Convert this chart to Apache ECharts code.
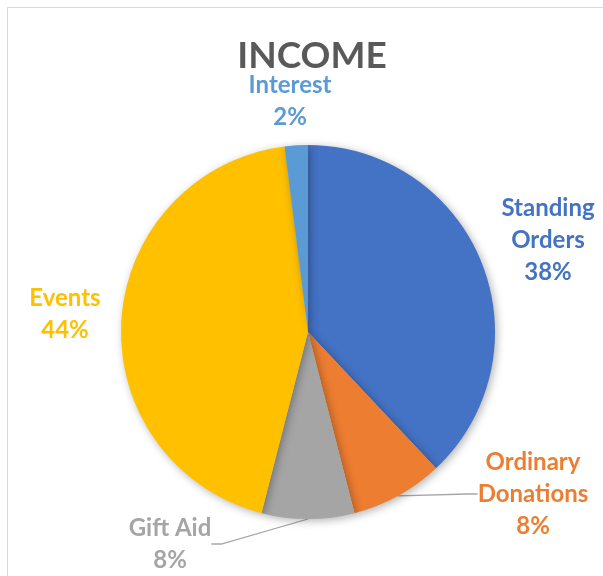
<!DOCTYPE html>
<html>
<head>
<meta charset="utf-8">
<script src="https://cdn.jsdelivr.net/npm/echarts@6/dist/echarts.min.js"></script>
<style>
  html, body { margin: 0; padding: 0; background: #fff; overflow: hidden; }
  #chart { position: absolute; left: 0; top: 0; width: 603px; height: 576px; }
  .frame {
    position: absolute; left: 7px; top: 7px; width: 700px; height: 700px;
    border: 1px solid #d9d9d9; pointer-events: none;
  }
</style>
</head>
<body>
<div id="chart"></div>
<div class="frame"></div>
<script>
// categories and values, clockwise from 12 o'clock
var categories = ['Standing Orders', 'Ordinary Donations', 'Gift Aid', 'Events', 'Interest'];
var values = [38, 8, 8, 44, 2];
var colors = ['#4472C4', '#ED7D31', '#A5A5A5', '#FFC000', '#5B9BD5'];

// label spots (center of each label block), same order as categories
var labelSpots = [[548, 240], [533, 494], [170, 544], [65, 314], [290, 101]];
var withLine = [false, true, true, false, false];

var myChart = echarts.init(document.getElementById('chart'));

var pieData = categories.map(function (name, i) {
  return {
    name: name,
    value: values[i],
    itemStyle: { color: colors[i] },
    label: { color: colors[i] },
    labelLine: { show: withLine[i] }
  };
});

var option = {
  backgroundColor: '#fff',
  animation: false,
  title: {
    text: 'INCOME',
    left: 307,
    textAlign: 'center',
    top: 33,
    textStyle: {
      fontFamily: 'Lato',
      fontSize: 37,
      fontWeight: 'bold',
      color: '#595959'
    }
  },
  series: [{
    type: 'pie',
    center: [308, 332],
    radius: 187,
    startAngle: 90,
    clockwise: true,
    avoidLabelOverlap: false,
    itemStyle: {
      borderWidth: 0,
      shadowBlur: 8,
      shadowOffsetX: 2,
      shadowOffsetY: 2,
      shadowColor: 'rgba(0,0,0,0.3)'
    },
    label: {
      show: true,
      position: 'outside',
      fontFamily: 'Lato',
      fontSize: 24,
      fontWeight: 'bold',
      lineHeight: 32,
      align: 'center',
      formatter: function (p) {
        var name = p.name === 'Gift Aid' ? p.name : p.name.replace(' ', '\n');
        return name + '\n' + Math.round(p.percent) + '%';
      }
    },
    labelLine: {
      length: 10,
      length2: 10,
      lineStyle: { color: '#A6A6A6', width: 1.3 }
    },
    labelLayout: function (params) {
      var spot = labelSpots[params.dataIndex];
      return {
        x: spot[0],
        y: spot[1],
        align: 'center',
        verticalAlign: 'middle'
      };
    },
    data: pieData
  }]
};

myChart.setOption(option);
window.onresize = function () {
  myChart.resize();
};
</script>
</body>
</html>
